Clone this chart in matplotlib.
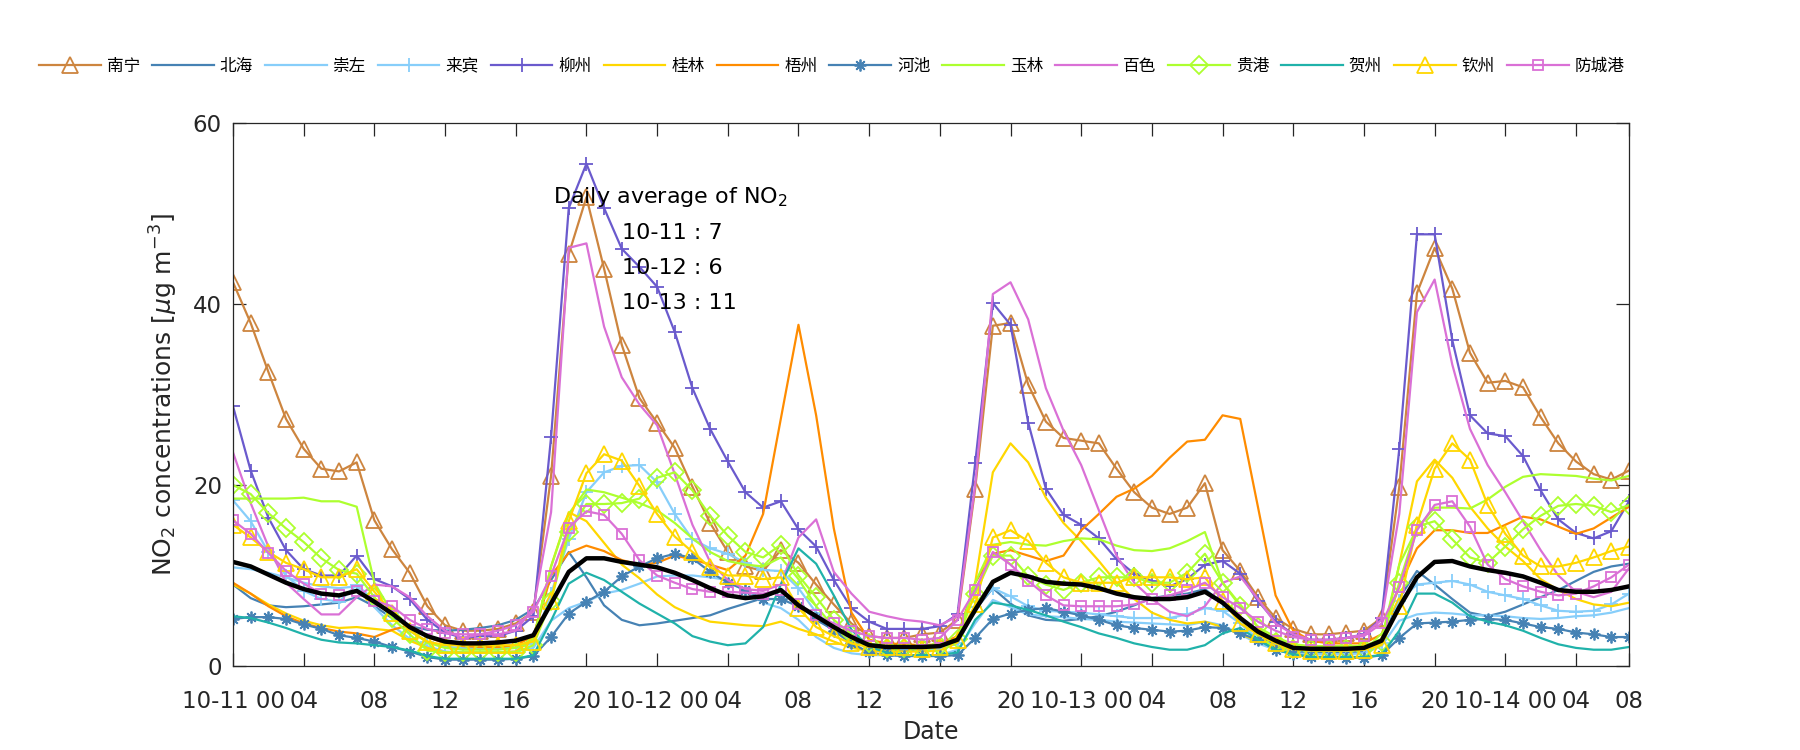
import matplotlib
matplotlib.use("Agg")
import matplotlib.pyplot as plt
import numpy as np

# ---------------- data (hourly, 10-11 00:00 .. 10-14 07:00) ----------------
names = ['南宁', '北海', '崇左', '来宾', '柳州', '桂林', '梧州',
         '河池', '玉林', '百色', '贵港', '贺州', '钦州', '防城港']

nanning = [42.4, 37.9, 32.5, 27.3, 24.0, 21.8, 21.5, 22.5, 16.1, 12.9, 10.3, 6.6, 4.5, 3.9, 3.9, 4.1, 4.7, 6.0, 21.0, 45.5,
           51.8, 43.9, 35.5, 29.6, 26.9, 24.1, 19.8, 15.8, 12.6, 11.0, 10.5, 12.8, 11.4, 9.0, 6.8, 4.7, 3.3, 3.1, 3.1, 3.5,
           3.7, 5.1, 19.6, 37.6, 37.9, 31.1, 27.0, 25.2, 24.9, 24.6, 21.8, 19.2, 17.5, 16.8, 17.5, 20.2, 12.8, 10.5, 7.6, 5.3,
           4.1, 3.5, 3.5, 3.7, 3.9, 5.3, 19.8, 41.2, 46.2, 41.7, 34.6, 31.3, 31.5, 30.8, 27.5, 24.6, 22.6, 21.2, 20.6, 21.6]
beihai = [9.0, 7.5, 6.7, 6.5, 6.6, 6.8, 7.0, 7.6, 6.6, 5.3, 4.4, 4.0, 3.9, 4.0, 4.2, 4.5, 5.1, 6.3, 9.5, 12.6,
          9.8, 6.7, 5.1, 4.5, 4.7, 5.0, 5.3, 5.6, 6.3, 6.9, 7.5, 8.4, 7.0, 5.1, 4.0, 2.9, 2.0, 1.8, 1.8, 1.8,
          1.9, 2.5, 6.2, 8.6, 6.9, 5.6, 5.1, 5.0, 5.2, 5.5, 6.0, 6.7, 7.5, 7.8, 8.0, 8.5, 6.9, 5.3, 3.6, 2.2,
          1.6, 1.5, 1.5, 1.5, 1.6, 2.5, 7.5, 10.5, 9.0, 7.4, 5.9, 5.5, 6.0, 6.8, 7.6, 8.4, 9.4, 10.4, 11.0, 11.3]
chongzuo = [10.9, 10.7, 10.3, 9.8, 9.2, 8.8, 8.6, 8.8, 6.5, 4.5, 3.0, 2.2, 1.6, 1.5, 1.5, 1.5, 1.6, 2.0, 5.0, 6.4,
            7.1, 8.0, 8.4, 9.1, 9.9, 10.0, 10.0, 9.8, 9.5, 8.2, 7.0, 6.4, 5.1, 3.2, 2.0, 1.4, 1.2, 1.2, 1.2, 1.2,
            1.2, 1.8, 4.7, 7.3, 6.5, 5.7, 5.5, 5.4, 5.2, 5.1, 4.9, 4.8, 4.7, 4.6, 4.5, 4.9, 4.5, 3.5, 2.5, 1.8,
            1.4, 1.3, 1.3, 1.3, 1.4, 2.2, 5.0, 5.7, 5.9, 5.8, 5.6, 5.6, 5.5, 5.3, 5.2, 5.3, 5.5, 5.6, 5.9, 6.4]
laibin = [18.3, 16.0, 12.6, 10.0, 8.3, 7.4, 7.1, 9.0, 7.2, 5.9, 3.9, 2.7, 2.1, 2.0, 2.0, 2.0, 2.0, 2.5, 8.0, 14.0,
          19.2, 21.4, 22.1, 22.2, 20.3, 16.8, 14.0, 13.0, 12.4, 11.4, 10.6, 10.5, 8.6, 5.9, 4.3, 3.1, 2.4, 2.0, 1.9, 1.9,
          1.9, 2.5, 6.5, 8.6, 7.7, 6.6, 6.1, 6.0, 5.9, 5.7, 5.5, 5.3, 5.3, 5.3, 5.7, 6.4, 6.1, 4.7, 3.0, 2.2,
          1.8, 1.7, 1.7, 1.7, 1.8, 2.5, 7.2, 9.0, 9.2, 9.4, 9.0, 8.2, 7.8, 7.4, 6.7, 6.1, 6.0, 6.1, 6.8, 8.0]
liuzhou = [28.7, 21.6, 16.4, 12.8, 10.7, 10.0, 10.0, 12.2, 9.6, 8.8, 7.4, 5.1, 3.7, 3.1, 3.3, 3.3, 3.9, 5.5, 25.3, 50.6,
           55.5, 50.6, 46.1, 44.1, 41.9, 36.9, 30.7, 26.2, 22.6, 19.2, 17.5, 18.2, 15.1, 13.2, 9.5, 6.4, 4.9, 4.1, 4.1, 4.1,
           4.4, 5.7, 22.4, 40.1, 37.7, 26.9, 19.6, 16.7, 15.6, 14.1, 11.8, 10.2, 9.4, 8.8, 9.6, 11.2, 11.6, 10.2, 7.2, 4.9,
           3.5, 2.9, 2.9, 3.1, 3.5, 5.3, 24.0, 47.7, 47.7, 36.0, 27.7, 25.7, 25.4, 23.2, 19.4, 16.2, 14.7, 14.1, 14.9, 18.2]
guilin = [9.0, 8.0, 6.8, 5.8, 5.0, 4.5, 4.2, 4.3, 4.1, 3.9, 2.8, 2.0, 1.5, 1.5, 1.5, 1.5, 1.6, 3.0, 11.0, 17.0,
          16.0, 13.6, 11.2, 9.7, 7.9, 6.5, 5.6, 4.9, 4.7, 4.5, 4.4, 4.9, 4.1, 3.5, 2.7, 2.0, 1.7, 1.6, 1.6, 1.6,
          1.7, 2.6, 9.2, 21.4, 24.6, 22.5, 18.6, 15.8, 13.8, 11.6, 9.2, 7.4, 5.9, 5.1, 4.7, 4.9, 4.3, 3.5, 2.8, 2.2,
          1.8, 1.8, 1.8, 1.8, 1.8, 2.5, 11.2, 20.4, 22.8, 20.8, 17.6, 15.2, 13.2, 11.6, 9.6, 8.4, 7.4, 6.8, 6.6, 7.0]
wuzhou = [9.2, 8.0, 6.6, 5.5, 4.7, 4.2, 3.8, 3.6, 3.2, 4.0, 4.5, 3.2, 2.5, 2.2, 2.1, 2.1, 2.3, 3.3, 10.0, 12.5,
          13.3, 12.7, 11.7, 11.2, 11.4, 12.2, 11.8, 11.2, 10.6, 12.2, 16.8, 27.3, 37.7, 27.7, 15.2, 5.9, 2.9, 2.5, 2.4, 2.3,
          2.4, 3.3, 9.2, 12.4, 12.8, 12.2, 11.6, 12.2, 15.0, 16.8, 18.7, 19.6, 21.0, 23.0, 24.8, 25.0, 27.7, 27.3, 17.6, 7.8,
          3.9, 2.8, 2.5, 2.5, 2.5, 3.5, 8.8, 13.0, 15.0, 15.0, 14.7, 14.7, 15.6, 16.5, 16.2, 15.4, 14.6, 15.2, 16.4, 17.6]
hechi = [5.2, 5.4, 5.4, 5.2, 4.6, 4.1, 3.4, 3.1, 2.7, 2.1, 1.6, 1.0, 0.7, 0.7, 0.7, 0.7, 0.8, 1.1, 3.2, 5.8,
         7.1, 8.2, 9.9, 11.0, 11.9, 12.4, 11.9, 10.4, 9.2, 8.4, 7.4, 7.4, 6.6, 5.3, 3.9, 2.5, 1.5, 1.2, 1.1, 1.1,
         1.1, 1.2, 3.1, 5.2, 5.8, 6.2, 6.4, 6.0, 5.6, 5.1, 4.5, 4.2, 4.0, 3.8, 3.9, 4.3, 4.2, 3.6, 2.9, 1.8,
         1.3, 1.0, 0.9, 0.9, 0.9, 1.2, 3.1, 4.7, 4.8, 4.9, 5.1, 5.2, 5.1, 4.7, 4.3, 4.1, 3.7, 3.5, 3.2, 3.2]
yulin = [18.5, 18.5, 18.5, 18.5, 18.6, 18.2, 18.2, 17.6, 9.2, 5.9, 3.9, 2.6, 2.0, 1.8, 1.8, 1.8, 2.0, 3.0, 11.0, 16.8,
         19.5, 19.2, 18.6, 18.0, 17.2, 15.8, 14.1, 12.6, 11.6, 11.2, 11.0, 12.0, 9.6, 6.6, 4.3, 3.0, 2.4, 2.2, 2.2, 2.2,
         2.3, 3.0, 9.2, 13.4, 13.7, 13.4, 13.3, 13.8, 14.1, 14.0, 13.3, 12.8, 12.7, 13.0, 13.8, 14.8, 9.2, 6.8, 4.3, 3.2,
         2.4, 2.2, 2.2, 2.2, 2.2, 3.0, 11.2, 15.2, 17.5, 17.5, 17.4, 18.4, 19.8, 20.9, 21.2, 21.1, 21.0, 20.7, 20.5, 21.0]
baise = [23.6, 18.0, 13.2, 9.2, 7.4, 5.7, 5.7, 7.6, 9.0, 8.8, 7.6, 5.5, 3.9, 3.1, 3.5, 3.5, 3.9, 6.4, 17.0, 46.2,
         46.7, 37.5, 31.9, 28.9, 26.6, 21.2, 15.6, 11.5, 9.5, 8.5, 8.3, 9.0, 14.2, 16.2, 10.4, 8.0, 6.0, 5.5, 5.1, 4.9,
         4.5, 5.5, 20.0, 41.1, 42.4, 38.3, 30.7, 26.0, 22.2, 17.2, 12.2, 9.2, 7.4, 6.0, 5.5, 6.6, 9.2, 9.9, 7.4, 4.7,
         3.5, 2.9, 2.8, 3.1, 3.5, 5.1, 16.8, 39.1, 42.7, 33.3, 26.2, 22.2, 19.2, 16.0, 12.8, 10.0, 8.2, 7.6, 8.2, 10.8]
guigang = [20.0, 19.0, 16.9, 15.2, 13.7, 11.9, 10.6, 10.2, 7.6, 5.3, 3.5, 1.7, 1.5, 1.5, 1.5, 1.5, 1.5, 2.3, 7.2, 14.8,
           17.9, 17.9, 18.0, 18.5, 20.8, 21.4, 19.4, 16.6, 14.4, 12.6, 12.0, 13.4, 10.0, 7.6, 5.1, 3.5, 2.5, 2.0, 2.0, 2.0,
           2.2, 3.0, 8.0, 12.2, 12.2, 9.9, 9.0, 8.4, 9.2, 9.8, 9.8, 9.8, 9.2, 9.2, 10.3, 12.4, 9.2, 6.6, 4.3, 2.7,
           1.9, 1.9, 1.9, 1.9, 1.9, 2.7, 9.2, 15.4, 16.0, 14.0, 12.0, 11.4, 13.2, 15.1, 16.6, 17.7, 17.9, 17.7, 17.0, 17.8]
hezhou = [5.5, 5.3, 4.8, 4.2, 3.5, 2.9, 2.6, 2.5, 2.3, 2.1, 1.7, 1.1, 0.8, 0.8, 0.8, 0.8, 0.8, 1.2, 5.0, 9.1,
          10.3, 9.5, 8.2, 6.9, 5.8, 4.7, 3.3, 2.7, 2.3, 2.5, 4.3, 9.0, 13.0, 11.3, 7.8, 4.0, 2.1, 1.5, 1.2, 1.2,
          1.2, 1.5, 5.1, 7.0, 6.7, 6.2, 5.6, 4.9, 4.3, 3.6, 3.1, 2.5, 2.1, 1.8, 1.8, 2.3, 3.6, 4.2, 2.9, 1.8,
          1.3, 1.0, 1.0, 1.0, 1.0, 1.2, 3.9, 8.0, 8.0, 7.0, 5.5, 4.9, 4.5, 3.9, 3.1, 2.4, 2.0, 1.8, 1.8, 2.1]
qinzhou = [15.6, 14.2, 12.6, 11.4, 10.7, 9.8, 9.8, 10.7, 8.2, 5.9, 3.9, 2.7, 2.3, 2.3, 2.3, 2.3, 2.3, 2.7, 7.2, 16.0,
           21.3, 23.4, 22.7, 19.9, 16.8, 14.3, 12.6, 10.9, 10.0, 10.0, 9.6, 9.8, 6.4, 4.3, 3.3, 2.5, 2.1, 2.1, 2.1, 1.9,
           2.1, 2.9, 6.8, 14.2, 15.0, 13.8, 11.4, 9.8, 9.2, 9.2, 9.2, 9.8, 9.8, 9.8, 9.6, 9.8, 7.2, 4.7, 3.5, 2.5,
           1.9, 1.7, 1.7, 1.7, 1.8, 2.3, 6.6, 15.6, 21.8, 24.6, 22.8, 17.8, 14.6, 12.2, 11.0, 11.0, 11.4, 12.0, 12.7, 13.2]
fangchenggang = [16.1, 14.6, 12.5, 10.5, 9.1, 8.0, 7.8, 8.3, 7.2, 6.6, 5.1, 4.1, 3.6, 3.5, 3.5, 3.9, 4.5, 6.0, 10.0, 15.3,
                 17.1, 16.7, 14.6, 11.7, 10.0, 9.2, 8.5, 8.2, 8.2, 8.1, 8.0, 8.4, 6.8, 5.6, 4.7, 3.9, 3.3, 3.1, 3.1, 2.9,
                 3.1, 5.1, 8.4, 12.6, 11.2, 9.4, 7.8, 6.7, 6.6, 6.6, 6.6, 6.8, 7.4, 7.8, 8.4, 9.2, 7.6, 6.4, 4.9, 3.9,
                 3.2, 2.9, 2.9, 3.1, 3.3, 4.7, 8.7, 15.0, 17.8, 18.2, 15.4, 11.2, 9.6, 8.8, 8.2, 7.8, 8.0, 8.8, 9.8, 11.2]
average = [11.5, 11.0, 10.1, 9.2, 8.5, 8.0, 7.8, 8.3, 7.1, 5.8, 4.3, 3.3, 2.7, 2.5, 2.5, 2.6, 2.8, 3.4, 6.9, 10.4,
           11.9, 11.9, 11.5, 11.2, 10.9, 10.3, 9.5, 8.6, 7.8, 7.5, 7.7, 8.4, 6.7, 5.5, 4.3, 3.2, 2.3, 2.1, 2.1, 2.1,
           2.2, 2.9, 6.2, 9.3, 10.3, 9.9, 9.3, 9.1, 9.0, 8.6, 8.0, 7.6, 7.4, 7.4, 7.6, 8.2, 7.0, 5.3, 3.8, 2.8,
           2.0, 1.9, 1.9, 1.9, 2.0, 2.8, 6.5, 9.8, 11.5, 11.6, 11.0, 10.6, 10.3, 9.9, 9.2, 8.4, 8.2, 8.2, 8.4, 8.8]

series = [nanning, beihai, chongzuo, laibin, liuzhou, guilin, wuzhou,
          hechi, yulin, baise, guigang, hezhou, qinzhou, fangchenggang]

tick_pos = [0, 4, 8, 12, 16, 20, 24, 28, 32, 36, 40, 44, 48, 52, 56, 60, 64, 68, 72, 76, 79]
tick_labels = ['10-11 00', '04', '08', '12', '16', '20',
               '10-12 00', '04', '08', '12', '16', '20',
               '10-13 00', '04', '08', '12', '16', '20',
               '10-14 00', '04', '08']
daily_avg_labels = ['10-11 : 7', '10-12 : 6', '10-13 : 11']

# ---------------- styles ----------------
colors = ['#CD853F', '#4682B4', '#87CEFA', '#87CEFA', '#6A5ACD', '#FFD700', '#FF8C00',
          '#4682B4', '#ADFF2F', '#DA70D6', '#ADFF2F', '#20B2AA', '#FFD700', '#DA70D6']
asterisk = (8, 2, 0)
markers = ['^', None, None, '+', '+', None, None,
           asterisk, None, None, 'D', None, '^', 's']
msizes = [11, 0, 0, 10.5, 10.5, 0, 0, 8.5, 0, 0, 9, 0, 11, 7.5]

plt.rcParams['font.family'] = ['DejaVu Sans']
fig = plt.figure(figsize=(18, 7.5), dpi=100)
ax = fig.add_axes([233 / 1800, 1 - 666 / 750, (1629 - 233) / 1800, (666 - 123) / 750])

x = np.arange(len(average))
handles = []
for name, y, c, m, ms in zip(names, series, colors, markers, msizes):
    kw = dict(color=c, lw=1.6, label=name)
    if m is not None:
        kw.update(marker=m, markersize=ms, markerfacecolor='none',
                  markeredgecolor=c, markeredgewidth=1.3)
    h, = ax.plot(x, y, **kw)
    handles.append(h)
ax.plot(x, average, color='black', lw=3.2)

ax.set_xlim(0, 79)
ax.set_ylim(0, 60)
ax.set_yticks([0, 20, 40, 60])
ax.set_xticks(tick_pos)
ax.set_xticklabels(tick_labels)
ax.tick_params(axis='both', direction='in', length=9.5, width=0.9, top=True, right=True,
               labelsize=16.5, colors='#262626')
ax.tick_params(axis='x', pad=17)
ax.tick_params(axis='y', pad=8)
for s in ax.spines.values():
    s.set_color('#262626')
    s.set_linewidth(0.9)

ax.set_xlabel('Date', fontsize=17, color='#262626', labelpad=5)
ax.set_ylabel(r'NO$_2$ concentrations [$\mu$g m$^{-3}$]', fontsize=18, color='#262626', labelpad=9)

ax.text(18.1, 51.2, r'Daily average of NO$_2$', fontsize=16, color='black', va='baseline')
for i, t in enumerate(daily_avg_labels):
    ax.text(22.0, 47.2 - 3.9 * i, t, fontsize=16, color='black', va='baseline')

leg = fig.legend(handles=handles, loc='center left', bbox_to_anchor=(39 / 1800, 1 - 66 / 750),
                 ncol=14, frameon=False, numpoints=1,
                 prop={'family': ['Noto Sans CJK SC', 'DejaVu Sans'], 'size': 12},
                 handlelength=3.7, handletextpad=0.36, columnspacing=0.72,
                 borderpad=0, borderaxespad=0)

fig.savefig('out.png', dpi=100)
